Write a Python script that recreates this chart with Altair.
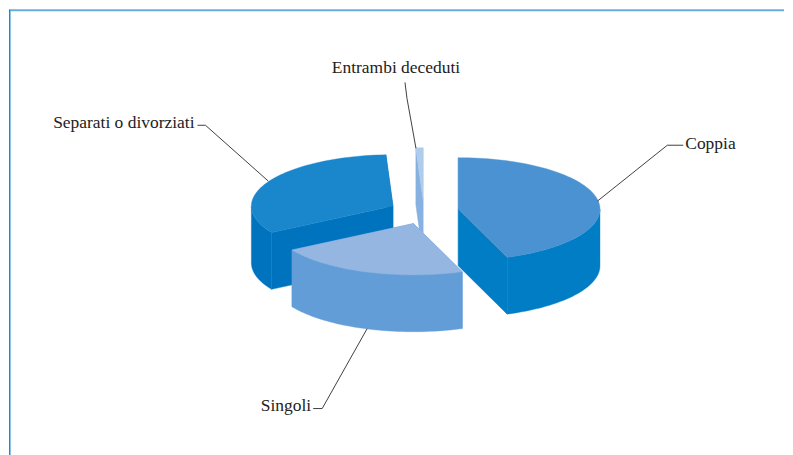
import math
import altair as alt
import pandas as pd

categories = ["Coppia", "Singoli", "Separati o divorziati", "Entrambi deceduti"]
shares = [44.4, 22.0, 32.8, 0.8]

top_colors = ["#4A92D2", "#94B6E0", "#1A86CB", "#B0CCEB"]
side_colors = ["#007DC5", "#629DD8", "#0073BF", "#86B1E0"]
# exploded centre of every slice, page pixels
centers = [(458.5, 208), (413.5, 222.5), (393, 205), (423, 198)]
RX, RY, DEPTH = 142, 51.5, 57
OX, OY = 8, 8
W, H = 777, 447
draw_order = [2, 3, 0, 1]

label_layout = {
    "Coppia": (686, 143, "left"),
    "Singoli": (311, 405, "right"),
    "Separati o divorziati": (194, 122, "right"),
    "Entrambi deceduti": (396, 67, "center"),
}
leaders = {
    "Coppia": [(684, 144), (668, 144), (598, 200)],
    "Singoli": [(313, 408), (322, 408), (367, 328)],
    "Separati o divorziati": [(197, 124), (205, 124), (268, 180)],
    "Entrambi deceduti": [(405, 81), (407, 97), (416, 147)],
}

xs = alt.Scale(domain=[0, W], range=[0, W], nice=False, zero=False)
ys = alt.Scale(domain=[0, H], range=[0, H], nice=False, zero=False)
X = alt.X("x:Q", scale=xs, axis=None)
Y = alt.Y("y:Q", scale=ys, axis=None)


def rim(c, a):
    r = math.radians(a)
    return (c[0] + RX * math.sin(r), c[1] - RY * math.cos(r))


def poly(points, color):
    df = pd.DataFrame(
        [{"x": p[0] - OX, "y": p[1] - OY, "i": i} for i, p in enumerate(points + points[:1])]
    )
    return (
        alt.Chart(df)
        .mark_line(fill=color, stroke=color, strokeWidth=0.4, interpolate="linear")
        .encode(x=X, y=Y, order="i:Q")
    )


angles = []
a = 0.0
for s in shares:
    angles.append((a, a + s * 3.6))
    a += s * 3.6

layers = []
for k in draw_order:
    c, (a0, a1) = centers[k], angles[k]
    top, side = top_colors[k], side_colors[k]
    for ang in (a0, a1):
        p = rim(c, ang)
        layers.append(poly([c, p, (p[0], p[1] + DEPTH), (c[0], c[1] + DEPTH)], side))
    f0, f1 = max(a0, 90), min(a1, 270)
    if f1 > f0:
        n = 48
        arc = [rim(c, f0 + (f1 - f0) * i / n) for i in range(n + 1)]
        layers.append(poly(arc + [(q[0], q[1] + DEPTH) for q in reversed(arc)], side))
    n = max(4, int((a1 - a0) / 2))
    layers.append(poly([c] + [rim(c, a0 + (a1 - a0) * i / n) for i in range(n + 1)], top))

for name in categories:
    df = pd.DataFrame(
        [{"x": p[0] - OX, "y": p[1] - OY, "i": i} for i, p in enumerate(leaders[name])]
    )
    layers.append(
        alt.Chart(df).mark_line(color="#2b2b2b", strokeWidth=0.9).encode(x=X, y=Y, order="i:Q")
    )

for name in categories:
    lx, ly, al = label_layout[name]
    df = pd.DataFrame([{"x": lx - OX, "y": ly - OY, "t": name}])
    layers.append(
        alt.Chart(df)
        .mark_text(font="Liberation Serif", fontSize=17.5, color="#222222", align=al, baseline="middle")
        .encode(x=X, y=Y, text="t:N")
    )

# frame: open on the right and at the bottom, where the page cuts it
frame = [
    alt.Chart(pd.DataFrame({"k": [1]})).mark_rule(color="#BBDDF3", strokeWidth=1).encode(
        x=alt.value(1), x2=alt.value(W), y=alt.value(1.5)),
    alt.Chart(pd.DataFrame({"k": [1]})).mark_rule(color="#8CC4E8", strokeWidth=1).encode(
        x=alt.value(1.5), y=alt.value(1), y2=alt.value(H)),
    alt.Chart(pd.DataFrame({"k": [1]})).mark_rule(color="#0078C4", strokeWidth=1).encode(
        x=alt.value(0), x2=alt.value(W), y=alt.value(0.5)),
    alt.Chart(pd.DataFrame({"k": [1]})).mark_rule(color="#1F86CC", strokeWidth=1).encode(
        x=alt.value(0.5), y=alt.value(0), y2=alt.value(H)),
]

chart = alt.layer(*frame, *layers).properties(
    width=W, height=H, padding=0, background="white"
).configure_view(stroke=None)
chart.save("out.html", embed_options={"renderer": "svg", "actions": False})
